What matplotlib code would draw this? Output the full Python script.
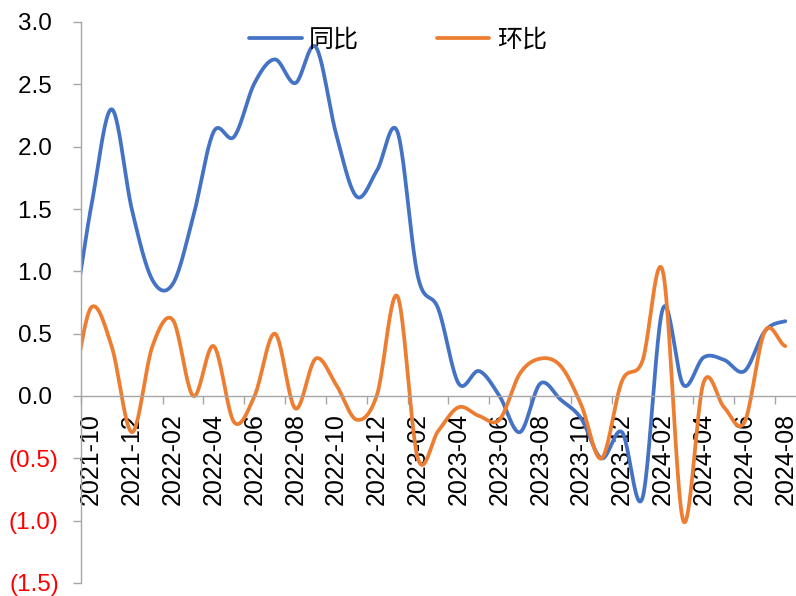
import numpy as np
import matplotlib
matplotlib.use("Agg")
import matplotlib.pyplot as plt

plt.rcParams['font.family'] = ['Liberation Sans', 'Noto Sans CJK SC', 'DejaVu Sans']

# ---- data (monthly, 2021-09 .. 2024-08; 2021-09 lies just left of the plot area) ----
months = ["2021-09",
          "2021-10", "2021-11", "2021-12", "2022-01", "2022-02", "2022-03", "2022-04",
          "2022-05", "2022-06", "2022-07", "2022-08", "2022-09", "2022-10", "2022-11",
          "2022-12", "2023-01", "2023-02", "2023-03", "2023-04", "2023-05", "2023-06",
          "2023-07", "2023-08", "2023-09", "2023-10", "2023-11", "2023-12", "2024-01",
          "2024-02", "2024-03", "2024-04", "2024-05", "2024-06", "2024-07", "2024-08"]

yoy = [0.60,
       1.52, 2.30, 1.49, 0.93, 0.90, 1.44, 2.12, 2.08, 2.51, 2.70, 2.51, 2.80, 2.10, 1.60,
       1.81, 2.12, 0.96, 0.70, 0.10, 0.20, 0.00, -0.29, 0.10, -0.03, -0.18, -0.50, -0.29,
       -0.82, 0.70, 0.09, 0.31, 0.29, 0.20, 0.52, 0.60]

mom = [0.05,
       0.71, 0.40, -0.29, 0.40, 0.61, 0.00, 0.40, -0.21, 0.00, 0.50, -0.10, 0.30, 0.09,
       -0.19, 0.01, 0.80, -0.50, -0.28, -0.09, -0.16, -0.19, 0.18, 0.30, 0.24, -0.07,
       -0.50, 0.12, 0.28, 1.00, -1.00, 0.11, -0.09, -0.21, 0.52, 0.40]

series_names = ["同比", "环比"]
series_colors = ["#4472C4", "#ED7D31"]
yticks = [-1.5, -1.0, -0.5, 0.0, 0.5, 1.0, 1.5, 2.0, 2.5, 3.0]


def smooth(xs, ys, n=24):
    """Excel-like smoothed line (Catmull-Rom / cubic Bezier)."""
    xs = np.asarray(xs, float)
    ys = np.asarray(ys, float)
    N = len(ys)
    ox, oy = [], []
    t = np.linspace(0, 1, n, endpoint=False)
    for k in range(N - 1):
        p0 = ys[k - 1] if k > 0 else ys[k]
        p1, p2 = ys[k], ys[k + 1]
        p3 = ys[k + 2] if k + 2 < N else ys[k + 1]
        c1 = p1 + (p2 - p0) / 6.0
        c2 = p2 - (p3 - p1) / 6.0
        b = ((1 - t) ** 3 * p1 + 3 * (1 - t) ** 2 * t * c1
             + 3 * (1 - t) * t ** 2 * c2 + t ** 3 * p2)
        ox.extend(xs[k] + t * (xs[k + 1] - xs[k]))
        oy.extend(b)
    ox.append(xs[-1])
    oy.append(ys[-1])
    return np.array(ox), np.array(oy)


fig = plt.figure(figsize=(7.96, 5.96), dpi=100)
ax = fig.add_axes([81 / 796, 13 / 596, 714.5 / 796, 561 / 596])

x = np.arange(len(months)) - 1  # 2021-10 -> 0
for vals, name, col in zip([yoy, mom], series_names, series_colors):
    sx, sy = smooth(x, vals)
    ax.plot(sx, sy, color=col, lw=2.7, solid_capstyle='round', label=name)

ax.set_xlim(-0.5, len(months) - 1.5)
ax.set_ylim(-1.5, 3.0)

axis_gray = "#A6A6A6"
for s in ["top", "right"]:
    ax.spines[s].set_visible(False)
ax.spines["left"].set_color(axis_gray)
ax.spines["left"].set_linewidth(1.0)
ax.spines["bottom"].set_color(axis_gray)
ax.spines["bottom"].set_linewidth(1.0)
ax.spines["bottom"].set_position(("data", 0))

# y ticks
ax.set_yticks(yticks)
ylabels = []
for v in yticks:
    if v < 0:
        ylabels.append("({:.1f})".format(-v))
    else:
        ylabels.append("{:.1f} ".format(v))
ax.set_yticklabels(ylabels)
for lab, v in zip(ax.get_yticklabels(), yticks):
    lab.set_color("#FF0000" if v < 0 else "#000000")
ax.tick_params(axis="y", length=6, width=1.0, color=axis_gray, pad=10, labelsize=17.5)

# x ticks: labels every 2 months, marks at category boundaries
lab_pos = x[1::2]
ax.set_xticks(lab_pos)
ax.set_xticklabels(months[1::2], rotation=90, va="top", ha="center")
ax.tick_params(axis="x", which="major", length=0, pad=12.5, labelsize=18)
ax.set_xticks(lab_pos - 0.5, minor=True)
ax.tick_params(axis="x", which="minor", length=5.5, width=1.0, color=axis_gray,
               direction="out")

fig.legend(loc="center", bbox_to_anchor=(0.5, 1 - 40 / 596), ncol=2, frameon=False,
           handlelength=2.1, handletextpad=0.3, columnspacing=3.1,
           prop={"family": ["Noto Sans CJK SC"], "size": 18})

fig.savefig("out.png", dpi=100)
